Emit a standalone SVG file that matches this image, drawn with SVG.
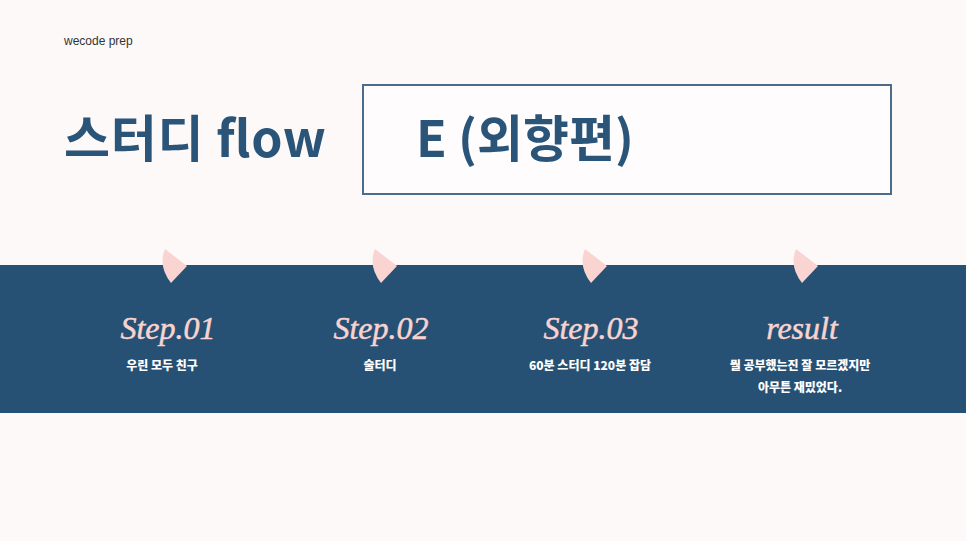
<svg xmlns="http://www.w3.org/2000/svg" width="966" height="541" viewBox="0 0 966 541">
<style>
.title{font-family:"Noto Sans CJK KR","Noto Sans",sans-serif;font-weight:700;fill:#2b5479}
.step{font-family:"Liberation Serif",serif;font-style:italic;font-size:32px;fill:#f8d3cf;stroke:#f8d3cf;stroke-width:0.5;text-anchor:middle}
.sub{font-family:"Noto Sans CJK KR",sans-serif;font-weight:900;font-size:12px;fill:#ffffff;text-anchor:middle}
.petal{fill:#f9d4d0}
</style>
<defs>
<path id="petal" class="petal" d="M-10,-17 L12,0 L-4,17 Q-17,0 -10,-17 Z"/>
</defs>
<rect width="966" height="541" fill="#fdf9f8"/>
<g id="header">
<text x="64" y="45" font-family="Liberation Sans, sans-serif" font-size="12" fill="#333">wecode prep</text>
<text class="title" x="64" y="157" font-size="50" textLength="262" lengthAdjust="spacing">스터디 flow</text>
</g>
<g id="title-box">
<rect x="363" y="85" width="528" height="109" fill="#fefcfc" stroke="#4c6c8c" stroke-width="2"/>
<text class="title" x="416" y="157" font-size="50">E (외향편)</text>
</g>
<rect x="0" y="265" width="966" height="148" fill="#265174"/>
<g id="connectors"></g>
<g id="step1">
<use href="#petal" x="175" y="266"/>
<text class="step" x="168" y="339">Step.01</text>
<text class="sub" x="162" y="370">우린 모두 친구</text>
</g>
<g id="step2">
<use href="#petal" x="385" y="266"/>
<text class="step" x="381" y="339">Step.02</text>
<text class="sub" x="380" y="370">술터디</text>
</g>
<g id="step3">
<use href="#petal" x="595" y="266"/>
<text class="step" x="591" y="339">Step.03</text>
<text class="sub" x="590" y="370">60분 스터디 120분 잡담</text>
</g>
<g id="result">
<use href="#petal" x="806" y="266"/>
<text class="step" x="802" y="339">result</text>
<text class="sub" x="800" y="370">뭘 공부했는진 잘 모르겠지만</text>
<text class="sub" x="800" y="392">아무튼 재밌었다.</text>
</g>
</svg>
